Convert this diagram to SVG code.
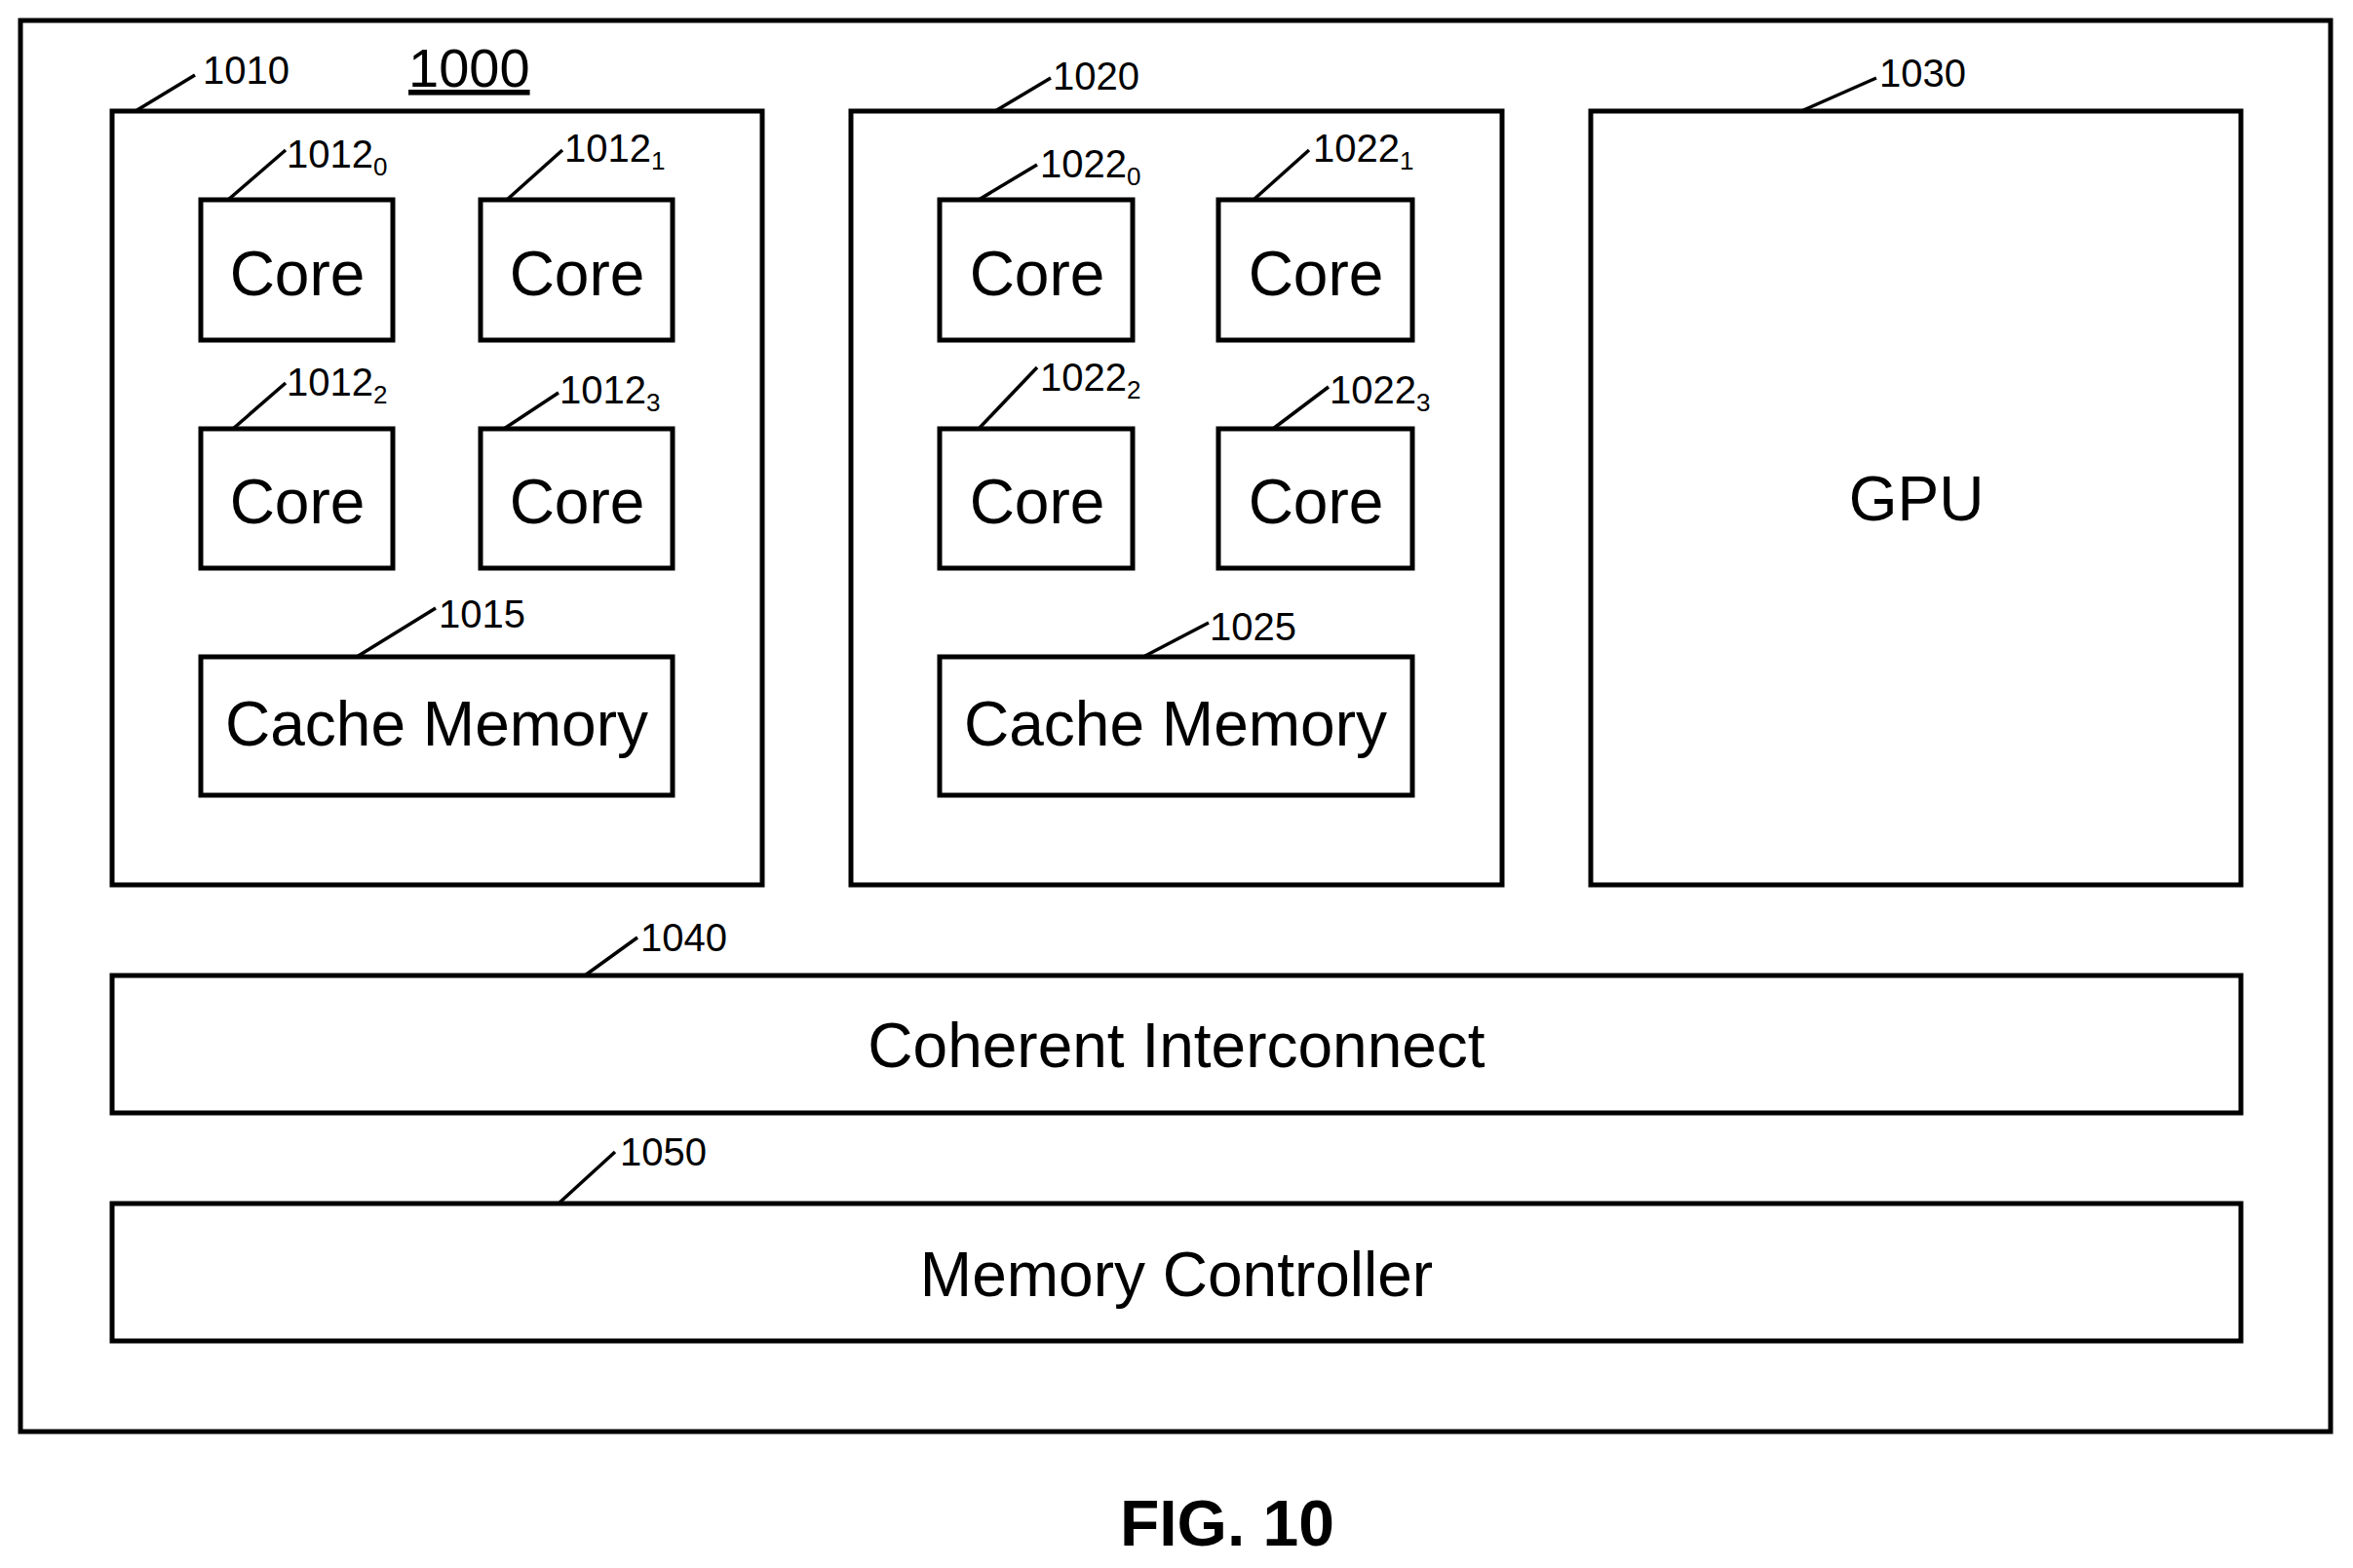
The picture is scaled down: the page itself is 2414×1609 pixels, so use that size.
<svg xmlns="http://www.w3.org/2000/svg" width="2414" height="1609" viewBox="0 0 2414 1609">
<style>
rect{fill:#fff;stroke:#000;stroke-width:5}
line{stroke:#000;stroke-width:3.5}
.t{font-family:"Liberation Sans Narrow","Liberation Sans",sans-serif;font-size:64px;text-anchor:middle}
.l{font-family:"Liberation Sans Narrow","Liberation Sans",sans-serif;font-size:40px}
.s{font-size:26px}
</style>
<rect width="2414" height="1609" style="stroke:none"/>
<g id="n1000"><rect x="21" y="21" width="2370" height="1448"/>
<text x="419" y="89" class="l" style="font-size:56px;text-decoration:underline">1000</text></g>
<g id="n1010"><rect x="115" y="114" width="667" height="794"/><text x="208" y="86" class="l">1010</text></g>
<g id="n1020"><rect x="873" y="114" width="668" height="794"/><text x="1080" y="92" class="l">1020</text></g>
<g id="n1030"><rect x="1632" y="114" width="667" height="794"/><text x="1966" y="534" class="t">GPU</text><text x="1928" y="89" class="l">1030</text></g>
<g id="n10120"><rect x="206" y="205" width="197" height="144"/><text x="305" y="303" class="t">Core</text><text x="294" y="172" class="l">1012<tspan class="s" dy="8">0</tspan></text></g>
<g id="n10121"><rect x="493" y="205" width="197" height="144"/><text x="592" y="303" class="t">Core</text><text x="579" y="166" class="l">1012<tspan class="s" dy="8">1</tspan></text></g>
<g id="n10122"><rect x="206" y="440" width="197" height="143"/><text x="305" y="537" class="t">Core</text><text x="294" y="406" class="l">1012<tspan class="s" dy="8">2</tspan></text></g>
<g id="n10123"><rect x="493" y="440" width="197" height="143"/><text x="592" y="537" class="t">Core</text><text x="574" y="414" class="l">1012<tspan class="s" dy="8">3</tspan></text></g>
<g id="n1015"><rect x="206" y="674" width="484" height="142"/><text x="448" y="765" class="t">Cache Memory</text><text x="450" y="644" class="l">1015</text></g>
<g id="n10220"><rect x="964" y="205" width="198" height="144"/><text x="1064" y="303" class="t">Core</text><text x="1067" y="182" class="l">1022<tspan class="s" dy="8">0</tspan></text></g>
<g id="n10221"><rect x="1250" y="205" width="199" height="144"/><text x="1350" y="303" class="t">Core</text><text x="1347" y="166" class="l">1022<tspan class="s" dy="8">1</tspan></text></g>
<g id="n10222"><rect x="964" y="440" width="198" height="143"/><text x="1064" y="537" class="t">Core</text><text x="1067" y="401" class="l">1022<tspan class="s" dy="8">2</tspan></text></g>
<g id="n10223"><rect x="1250" y="440" width="199" height="143"/><text x="1350" y="537" class="t">Core</text><text x="1364" y="414" class="l">1022<tspan class="s" dy="8">3</tspan></text></g>
<g id="n1025"><rect x="964" y="674" width="485" height="142"/><text x="1206" y="765" class="t">Cache Memory</text><text x="1241" y="657" class="l">1025</text></g>
<g id="n1040"><rect x="115" y="1001" width="2184" height="141"/><text x="1207" y="1095" class="t">Coherent Interconnect</text><text x="657" y="976" class="l">1040</text></g>
<g id="n1050"><rect x="115" y="1235" width="2184" height="141"/><text x="1207" y="1330" class="t">Memory Controller</text><text x="636" y="1196" class="l">1050</text></g>
<g id="connectors">
<line x1="139" y1="114" x2="200" y2="77"/>
<line x1="234" y1="205" x2="293" y2="154"/>
<line x1="520" y1="205" x2="577" y2="154"/>
<line x1="239" y1="440" x2="293" y2="393"/>
<line x1="517" y1="440" x2="573" y2="403"/>
<line x1="366" y1="674" x2="447" y2="624"/>
<line x1="1021" y1="114" x2="1078" y2="80"/>
<line x1="1004" y1="205" x2="1064" y2="169"/>
<line x1="1286" y1="205" x2="1343" y2="154"/>
<line x1="1004" y1="440" x2="1064" y2="377"/>
<line x1="1306" y1="440" x2="1363" y2="397"/>
<line x1="1173" y1="674" x2="1240" y2="639"/>
<line x1="1848" y1="114" x2="1925" y2="80"/>
<line x1="600" y1="1001" x2="654" y2="962"/>
<line x1="573" y1="1235" x2="631" y2="1182"/>
</g>
<text x="1259" y="1586" class="t" style="font-weight:bold;font-size:66px">FIG. 10</text>
</svg>
